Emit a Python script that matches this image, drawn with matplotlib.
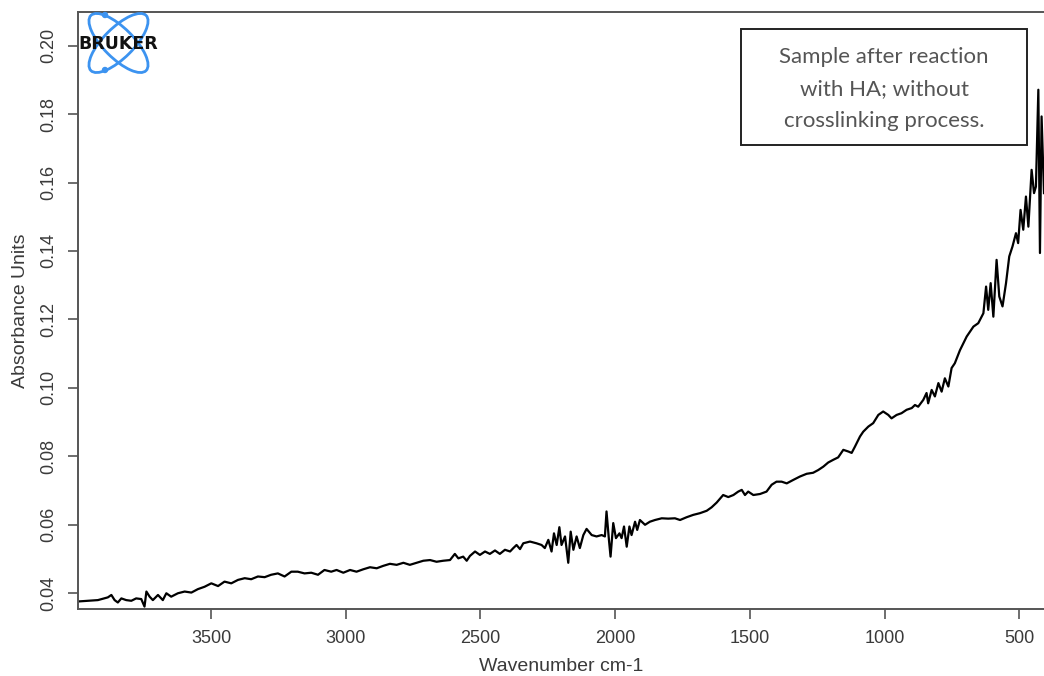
import matplotlib
matplotlib.use("Agg")
import matplotlib.pyplot as plt
from matplotlib.patches import Ellipse, Circle, Rectangle

# IR absorbance spectrum, wavenumber (cm-1) vs absorbance units
wavenumber = [
    3994, 3957, 3920, 3883, 3870, 3858, 3846, 3833, 3815, 3796, 3778, 3759,
    3747, 3740, 3728, 3716, 3697, 3679, 3666, 3648, 3623, 3598, 3573, 3549,
    3524, 3499, 3474, 3450, 3425, 3400, 3375, 3351, 3326, 3301, 3277, 3252,
    3227, 3202, 3178, 3153, 3128, 3103, 3079, 3054, 3034, 3009, 2984, 2960,
    2935, 2910, 2885, 2861, 2836, 2811, 2786, 2762, 2737, 2712, 2687, 2663,
    2638, 2613, 2595, 2582, 2564, 2551, 2539, 2520, 2502, 2483, 2465, 2446,
    2428, 2409, 2390, 2378, 2366, 2353, 2341, 2316, 2292, 2273, 2261, 2248,
    2236, 2227, 2217, 2207, 2199, 2186, 2174, 2165, 2155, 2143, 2131, 2118,
    2106, 2087, 2069, 2050, 2038, 2032, 2023, 2017, 2007, 1997, 1984, 1976,
    1967, 1957, 1947, 1939, 1926, 1918, 1908, 1889, 1871, 1852, 1827, 1803,
    1778, 1759, 1735, 1710, 1685, 1660, 1642, 1623, 1599, 1580, 1561, 1543,
    1530, 1518, 1506, 1487, 1462, 1438, 1419, 1401, 1382, 1363, 1339, 1314,
    1289, 1265, 1246, 1227, 1209, 1190, 1172, 1153, 1134, 1122, 1110, 1091,
    1079, 1060, 1042, 1023, 1005, 986, 974, 955, 937, 918, 899, 887,
    875, 856, 844, 838, 825, 813, 800, 788, 776, 763, 751, 739,
    720, 695, 670, 652, 633, 623, 615, 606, 596, 584, 574, 562,
    549, 537, 525, 512, 504, 495, 485, 475, 466, 454, 445, 438,
    429, 423, 417, 408,
]
absorbance = [
    0.0376, 0.0378, 0.0380, 0.0388, 0.0395, 0.0380, 0.0373, 0.0385, 0.0380, 0.0378, 0.0385, 0.0383,
    0.0361, 0.0405, 0.0390, 0.0380, 0.0395, 0.0380, 0.0400, 0.0390, 0.0400, 0.0405, 0.0402, 0.0412,
    0.0419, 0.0429, 0.0421, 0.0434, 0.0429, 0.0439, 0.0444, 0.0441, 0.0449, 0.0447, 0.0454, 0.0458,
    0.0449, 0.0463, 0.0463, 0.0458, 0.0460, 0.0454, 0.0468, 0.0463, 0.0468, 0.0460, 0.0468, 0.0463,
    0.0470, 0.0476, 0.0473, 0.0480, 0.0486, 0.0483, 0.0489, 0.0483, 0.0489, 0.0495, 0.0497, 0.0492,
    0.0495, 0.0497, 0.0515, 0.0502, 0.0507, 0.0495, 0.0509, 0.0522, 0.0512, 0.0522, 0.0515, 0.0525,
    0.0515, 0.0527, 0.0522, 0.0532, 0.0541, 0.0529, 0.0546, 0.0551, 0.0546, 0.0541, 0.0532, 0.0556,
    0.0522, 0.0575, 0.0541, 0.0593, 0.0541, 0.0566, 0.0489, 0.0580, 0.0527, 0.0566, 0.0532, 0.0570,
    0.0588, 0.0570, 0.0566, 0.0570, 0.0566, 0.0639, 0.0556, 0.0507, 0.0605, 0.0561, 0.0575, 0.0561,
    0.0595, 0.0536, 0.0595, 0.0570, 0.0609, 0.0585, 0.0614, 0.0600, 0.0609, 0.0614, 0.0619, 0.0618,
    0.0619, 0.0614, 0.0622, 0.0629, 0.0634, 0.0641, 0.0651, 0.0665, 0.0687, 0.0681, 0.0687, 0.0697,
    0.0702, 0.0687, 0.0697, 0.0687, 0.0690, 0.0697, 0.0717, 0.0726, 0.0726, 0.0721, 0.0731, 0.0741,
    0.0749, 0.0752, 0.0760, 0.0770, 0.0782, 0.0790, 0.0797, 0.0819, 0.0814, 0.0810, 0.0828, 0.0858,
    0.0872, 0.0887, 0.0897, 0.0921, 0.0931, 0.0921, 0.0911, 0.0921, 0.0926, 0.0936, 0.0941, 0.0950,
    0.0945, 0.0965, 0.0985, 0.0955, 0.0994, 0.0975, 0.1014, 0.0989, 0.1028, 0.1004, 0.1058, 0.1072,
    0.1110, 0.1150, 0.1179, 0.1189, 0.1218, 0.1296, 0.1228, 0.1306, 0.1208, 0.1374, 0.1267, 0.1238,
    0.1306, 0.1384, 0.1413, 0.1452, 0.1423, 0.1520, 0.1462, 0.1559, 0.1471, 0.1637, 0.1569, 0.1588,
    0.1871, 0.1394, 0.1793, 0.1569,
]

x_ticks = [3500, 3000, 2500, 2000, 1500, 1000, 500]
y_ticks = [0.04, 0.06, 0.08, 0.10, 0.12, 0.14, 0.16, 0.18, 0.20]
note_text = "Sample after reaction\nwith HA; without\ncrosslinking process."

W, H = 1044, 676
fig = plt.figure(figsize=(W / 100, H / 100), dpi=100)
plt.rcParams['font.family'] = ['Liberation Sans', 'DejaVu Sans']

ax = fig.add_axes([77.7 / W, (H - 609) / H, 1 - 77.7 / W, (609 - 11.7) / H])
ax.plot(wavenumber, absorbance, color='black', lw=1.6)
ax.set_xlim(3995, 408)
ax.set_ylim(0.0354, 0.2099)

ax.set_xticks(x_ticks)
ax.set_xticklabels([str(v) for v in x_ticks])
ax.set_yticks(y_ticks)
ax.set_yticklabels([f"{v:.2f}" for v in y_ticks], rotation=90, va='center')

axis_col = '#555555'
text_col = '#3a3a3a'
for side in ['left', 'bottom', 'top']:
    ax.spines[side].set_color(axis_col)
    ax.spines[side].set_linewidth(1.4)
ax.spines['right'].set_visible(False)
ax.tick_params(axis='both', direction='out', length=7, width=1.2,
               color=axis_col, labelcolor=text_col, labelsize=13)
ax.tick_params(axis='y', pad=8)
ax.tick_params(axis='x', pad=8)

ax.set_xlabel('Wavenumber cm-1', fontsize=14, color=text_col, labelpad=8)
ax.set_ylabel('Absorbance Units', fontsize=14, color=text_col, labelpad=8)

# overlay in pixel units for the logo and the note box
ov = fig.add_axes([0, 0, 1, 1])
ov.set_xlim(0, W)
ov.set_ylim(H, 0)
ov.axis('off')
ov.patch.set_alpha(0)

blue = '#3c93f0'
for ang in (45, -45):
    ov.add_patch(Ellipse((118.5, 43), 78, 30, angle=ang, fill=False,
                         edgecolor=blue, lw=2))
for cx, cy in [(105, 15), (105, 70)]:
    ov.add_patch(Circle((cx, cy), 2.5, color=blue))
ov.text(118, 44, 'BRUKER', family='DejaVu Sans', fontweight='bold',
        fontsize=12.5, color='#111111', ha='center', va='center')

ov.add_patch(Rectangle((741, 29), 285.7, 116, facecolor='white',
                       edgecolor='#222222', lw=1.4))
ov.text(884, 89, note_text, family='Lato', fontsize=16, color='#555555',
        ha='center', va='center', linespacing=1.75)

fig.savefig('out.png', dpi=100)
